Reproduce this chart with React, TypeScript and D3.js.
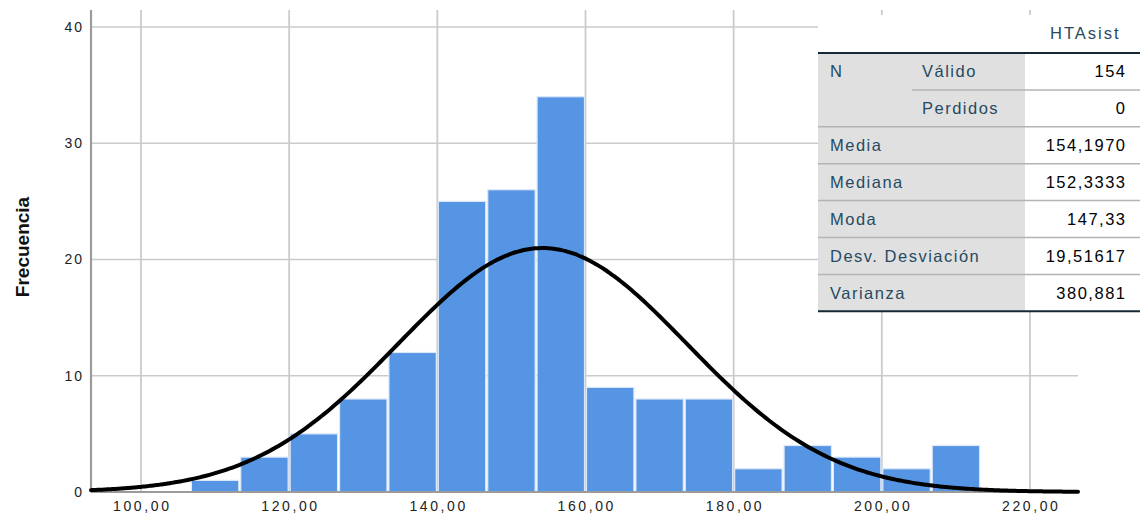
import React from "react";
import * as d3 from "d3";

// Histogram of HTAsist with a fitted normal curve and a summary-statistics table.
const binLower = [106.67, 113.33, 120.0, 126.67, 133.33, 140.0, 146.67, 153.33, 160.0, 166.67, 173.33, 180.0, 186.67, 193.33, 200.0, 206.67];
const binWidth = 20 / 3;
const counts = [1, 3, 5, 8, 12, 25, 26, 34, 9, 8, 8, 2, 4, 3, 2, 4];

const xTicks = [100, 120, 140, 160, 180, 200, 220];
const yTicks = [0, 10, 20, 30, 40];

const nValid = 154;
const mean = 154.197;
const sd = 19.51617;

const tableHeader = "HTAsist";
const rowGroup = ["N", "", "Media", "Mediana", "Moda", "Desv. Desviación", "Varianza"];
const rowSub = ["Válido", "Perdidos", "", "", "", "", ""];
const rowValues = ["154", "0", "154,1970", "152,3333", "147,33", "19,51617", "380,881"];

const W = 1140;
const H = 514;
const plot = { left: 91, right: 1078, top: 10, bottom: 492 };

const fmtTick = (v: number) => v.toFixed(2).replace(".", ",");

export default function App() {
  const x = d3.scaleLinear().domain([93.25, 226.48]).range([plot.left, plot.right]);
  const y = d3.scaleLinear().domain([0, 41.46]).range([plot.bottom, plot.top]);

  const [xa, xb] = x.domain();
  const curvePts: [number, number][] = d3.range(0, 301).map((i) => {
    const v = xa + ((xb - xa) * i) / 300;
    const z = (v - mean) / sd;
    const dens = Math.exp(-0.5 * z * z) / (sd * Math.sqrt(2 * Math.PI));
    return [v, nValid * binWidth * dens];
  });
  const line = d3
    .line<[number, number]>()
    .x((d) => x(d[0]))
    .y((d) => y(d[1]))
    .curve(d3.curveBasis);

  // table geometry
  const tL = 818;
  const tR = 1140;
  const tTop = 15;
  const headLine = 53;
  const rowH = 36.9;
  const splitX = 1025;
  const subX = 922;
  const tBottom = headLine + rowH * rowValues.length;
  const labelColor = "#264a60";
  const font = "'Liberation Sans', Arial, sans-serif";
  const tFs = 16.5;
  const tLs = 1.5;

  return (
    <svg width={W} height={H} style={{ position: "absolute", left: 0, top: 0, background: "#fff" }}>
      <rect x={0} y={0} width={W} height={H} fill="#fff" />
      {/* gridlines */}
      {yTicks.filter((t) => t > 0).map((t) => (
        <line key={"gy" + t} x1={plot.left} x2={plot.right} y1={y(t)} y2={y(t)} stroke="#cbcbcb" strokeWidth={1.5} />
      ))}
      {xTicks.map((t) => (
        <line key={"gx" + t} x1={x(t)} x2={x(t)} y1={plot.top} y2={plot.bottom} stroke="#cbcbcb" strokeWidth={1.8} />
      ))}

      {/* bars */}
      {counts.map((c, i) => {
        const x0 = x(binLower[i]);
        const x1 = x(binLower[i] + binWidth);
        return (
          <rect
            key={"b" + i}
            x={x0 + 1}
            y={y(c)}
            width={x1 - x0 - 2}
            height={y(0) - y(c)}
            fill="#5595e3"
            stroke="#dce8f8"
            strokeWidth={1.2}
          />
        );
      })}

      {/* axes */}
      <line x1={plot.left} x2={plot.left} y1={plot.top} y2={plot.bottom} stroke="#9b9b9b" strokeWidth={2.2} />
      <line x1={plot.left} x2={plot.right} y1={plot.bottom} y2={plot.bottom} stroke="#9b9b9b" strokeWidth={1.8} />

      {/* normal curve */}
      <path d={line(curvePts) || ""} fill="none" stroke="#000" strokeWidth={4} strokeLinecap="round" />

      {/* tick labels */}
      {yTicks.map((t) => (
        <text key={"ty" + t} x={84} y={y(t)} dy="0.35em" textAnchor="end" fontFamily={font} fontSize={14} letterSpacing={2} fill="#222">
          {t}
        </text>
      ))}
      {xTicks.map((t) => (
        <text key={"tx" + t} x={x(t) + 1.3} y={511} textAnchor="middle" fontFamily={font} fontSize={14} letterSpacing={2.6} fill="#222">
          {fmtTick(t)}
        </text>
      ))}
      <text
        transform="translate(29,247) rotate(-90)"
        textAnchor="middle"
        fontFamily="'Liberation Sans Narrow', 'Arial Narrow', 'Liberation Sans', sans-serif"
        fontWeight="bold"
        fontSize={19}
        fill="#111"
      >
        Frecuencia
      </text>

      {/* statistics table */}
      <rect x={tL} y={tTop} width={tR - tL} height={tBottom - tTop} fill="#fff" />
      <rect x={tL} y={headLine} width={splitX - tL} height={tBottom - headLine} fill="#e0e0e0" />
      <text x={1119 + tLs} y={39} textAnchor="end" fontFamily={font} fontSize={tFs} letterSpacing={2} fill={labelColor}>
        {tableHeader}
      </text>
      {rowValues.map((v, i) => {
        const top = headLine + i * rowH;
        const cy = top + rowH / 2 + 6;
        return (
          <g key={"r" + i}>
            {i > 0 && (
              <line
                x1={i === 1 ? 912 : tL}
                x2={tR}
                y1={top}
                y2={top}
                stroke="#b4b4b4"
                strokeWidth={1.5}
              />
            )}
            {rowGroup[i] && (
              <text x={830} y={cy} fontFamily={font} fontSize={tFs} letterSpacing={tLs} fill={labelColor}>
                {rowGroup[i]}
              </text>
            )}
            {rowSub[i] && (
              <text x={subX} y={cy} fontFamily={font} fontSize={tFs} letterSpacing={tLs} fill={labelColor}>
                {rowSub[i]}
              </text>
            )}
            <text x={1125 + tLs} y={cy} textAnchor="end" fontFamily={font} fontSize={tFs} letterSpacing={tLs} fill="#010205">
              {v}
            </text>
          </g>
        );
      })}
      <line x1={tL} x2={tR} y1={headLine} y2={headLine} stroke="#152935" strokeWidth={2} />
      <line x1={tL} x2={tR} y1={tBottom} y2={tBottom} stroke="#152935" strokeWidth={2} />
    </svg>
  );
}
